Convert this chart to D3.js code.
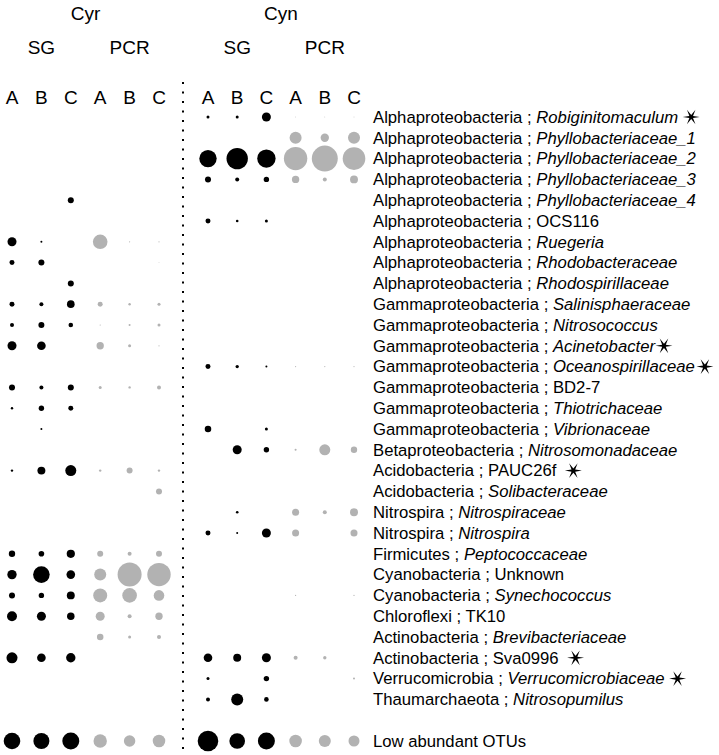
<!DOCTYPE html>
<html>
<head>
<meta charset="utf-8">
<script src="https://cdn.jsdelivr.net/npm/d3@7"></script>
<style>
  body { margin: 0; background: #fff; }
  svg { font-family: "Liberation Sans", Arial, sans-serif; }
</style>
</head>
<body>
<svg id="chart" width="719" height="755"></svg>
<script>
// taxa: phylum/class ; group (italic when a named genus/family)
var phyla = [
    "Alphaproteobacteria", "Alphaproteobacteria", "Alphaproteobacteria", "Alphaproteobacteria",
    "Alphaproteobacteria", "Alphaproteobacteria", "Alphaproteobacteria", "Alphaproteobacteria",
    "Alphaproteobacteria", "Gammaproteobacteria", "Gammaproteobacteria", "Gammaproteobacteria",
    "Gammaproteobacteria", "Gammaproteobacteria", "Gammaproteobacteria", "Gammaproteobacteria",
    "Betaproteobacteria", "Acidobacteria", "Acidobacteria", "Nitrospira", "Nitrospira",
    "Firmicutes", "Cyanobacteria", "Cyanobacteria", "Chloroflexi", "Actinobacteria",
    "Actinobacteria", "Verrucomicrobia", "Thaumarchaeota", ""
];
var groups = [
    "Robiginitomaculum", "Phyllobacteriaceae_1", "Phyllobacteriaceae_2", "Phyllobacteriaceae_3",
    "Phyllobacteriaceae_4", "OCS116", "Ruegeria", "Rhodobacteraceae", "Rhodospirillaceae",
    "Salinisphaeraceae", "Nitrosococcus", "Acinetobacter", "Oceanospirillaceae", "BD2-7",
    "Thiotrichaceae", "Vibrionaceae", "Nitrosomonadaceae", "PAUC26f", "Solibacteraceae",
    "Nitrospiraceae", "Nitrospira", "Peptococcaceae", "Unknown", "Synechococcus", "TK10",
    "Brevibacteriaceae", "Sva0996", "Verrucomicrobiaceae", "Nitrosopumilus", "Low abundant OTUs"
];
var plainGroups = ["OCS116", "BD2-7", "PAUC26f", "Unknown", "TK10", "Sva0996", "Low abundant OTUs"];
var starred = ["Robiginitomaculum", "Acinetobacter", "Oceanospirillaceae", "PAUC26f", "Sva0996", "Verrucomicrobiaceae"];

var sites = ["Cyr", "Cyn"];
var methods = ["SG", "PCR"];
var replicates = ["A", "B", "C"];

// relative abundance (%) per sample, same order as groups
var cyrSgA  = [0, 0, 0, 0, 0, 0, 3.6, 1.1, 0, 1.1, 0.71, 3.6, 0, 1.6, 0.26, 0, 0, 0.26, 0, 0, 0, 1.8, 3.9, 1.6, 4.4, 0, 5.4, 0, 0, 12.2];
var cyrSgB  = [0, 0, 0, 0, 0, 0, 0.18, 1.6, 0, 0.71, 1.6, 3.3, 0, 0.71, 1.3, 0.18, 0, 2.8, 0, 0, 0, 1.4, 12.2, 1.3, 3.6, 0, 3.3, 0, 0, 11.4];
var cyrSgC  = [0, 0, 0, 0, 1.6, 0, 0, 0, 1.6, 2.6, 0.94, 0, 0, 1.6, 1.1, 0, 0, 5.4, 0, 0, 0, 3.0, 3.3, 2.8, 2.5, 0, 3.9, 0, 0, 12.8];
var cyrPcrA = [0, 0, 0, 0, 0, 0, 9.5, 0, 0, 1.1, 0.06, 2.4, 0, 0.4, 0, 0, 0, 0.26, 0, 0, 0, 1.6, 6.4, 8.7, 3.6, 1.9, 0, 0, 0, 8.0];
var cyrPcrB = [0, 0, 0, 0, 0, 0, 0.06, 0, 0, 0.26, 0.18, 0.4, 0, 0.26, 0, 0, 0, 1.6, 0, 0, 0, 0.71, 25.6, 9.5, 0.71, 0.4, 0, 0, 0, 5.8];
var cyrPcrC = [0, 0, 0, 0, 0, 0, 0.06, 0.03, 0, 0.4, 0.4, 0.06, 0, 0.71, 0, 0, 0, 0.26, 1.6, 0, 0, 1.6, 24.3, 5.0, 2.4, 0.71, 0, 0, 0, 7.0];
var cynSgA  = [0.4, 0, 13.4, 1.6, 0, 1.1, 0, 0, 0, 0, 0, 0, 1.1, 0, 0, 1.9, 0, 0, 0, 0, 1.1, 0, 0, 0, 0, 0, 3.3, 0.4, 0.71, 18.8];
var cynSgB  = [0.4, 0, 20.3, 0.71, 0, 0.3, 0, 0, 0, 0, 0, 0, 0.5, 0, 0, 0, 3.6, 0, 0, 0.3, 0.18, 0, 0, 0, 0, 0, 2.8, 0, 6.4, 10.8];
var cynSgC  = [3.6, 0, 15.0, 1.3, 0, 0.4, 0, 0, 0, 0, 0, 0, 0.18, 0, 0, 0.4, 1.3, 0, 0, 0, 3.6, 0, 0, 0, 0, 0, 3.6, 1.3, 0.94, 12.8];
var cynPcrA = [0.03, 6.4, 24.3, 2.4, 0, 0, 0, 0, 0, 0, 0, 0, 0.06, 0, 0, 0, 0.18, 0, 0, 2.2, 2.2, 0, 0, 0.06, 0, 0, 0.71, 0, 0, 7.0];
var cynPcrB = [0.03, 3.1, 30, 0.71, 0, 0, 0, 0, 0, 0, 0, 0, 0.06, 0, 0, 0, 5.4, 0, 0, 0.71, 0, 0, 0, 0, 0, 0, 0.5, 0, 0, 6.4];
var cynPcrC = [0.03, 6.4, 22.7, 2.8, 0, 0, 0, 0, 0, 0, 0, 0, 0.06, 0, 0, 0, 1.8, 0, 0, 2.8, 2.2, 0, 0, 0.06, 0, 0, 0, 0.18, 0, 5.4];

var samples = [
    { site: "Cyr", method: "SG", rep: "A", values: cyrSgA },
    { site: "Cyr", method: "SG", rep: "B", values: cyrSgB },
    { site: "Cyr", method: "SG", rep: "C", values: cyrSgC },
    { site: "Cyr", method: "PCR", rep: "A", values: cyrPcrA },
    { site: "Cyr", method: "PCR", rep: "B", values: cyrPcrB },
    { site: "Cyr", method: "PCR", rep: "C", values: cyrPcrC },
    { site: "Cyn", method: "SG", rep: "A", values: cynSgA },
    { site: "Cyn", method: "SG", rep: "B", values: cynSgB },
    { site: "Cyn", method: "SG", rep: "C", values: cynSgC },
    { site: "Cyn", method: "PCR", rep: "A", values: cynPcrA },
    { site: "Cyn", method: "PCR", rep: "B", values: cynPcrB },
    { site: "Cyn", method: "PCR", rep: "C", values: cynPcrC }
];

var svg = d3.select("#chart");
var colKeys = function (site) {
    var keys = [];
    methods.forEach(function (m) {
        replicates.forEach(function (r) { keys.push(site + m + r); });
    });
    return keys;
};

var xScales = {
    Cyr: d3.scalePoint().domain(colKeys("Cyr")).range([12, 159]),
    Cyn: d3.scalePoint().domain(colKeys("Cyn")).range([208, 354])
};
var xOf = function (s) { return xScales[s.site](s.site + s.method + s.rep); };

// rows, with an empty slot before the last row
var rowKeys = groups.slice(0, groups.length - 1).concat(["gap"], groups.slice(groups.length - 1));
var yScale = d3.scalePoint().domain(rowKeys).range([117, 741]);

var rScale = d3.scaleSqrt().domain([0, 30]).range([0, 13]);
var color = { SG: "#000000", PCR: "#b2b2b2" };

// headers
var header = svg.append("g").attr("font-size", 19).attr("fill", "#000").attr("text-anchor", "middle");

sites.forEach(function (site) {
    var keys = colKeys(site);
    var xs = xScales[site];
    header.append("text")
        .attr("x", (xs(keys[1]) + xs(keys[4])) / 2)
        .attr("y", 13).attr("dy", "0.35em")
        .text(site);
    methods.forEach(function (m) {
        header.append("text")
            .attr("x", xs(site + m + "B"))
            .attr("y", 47).attr("dy", "0.35em")
            .text(m);
    });
});

header.selectAll("text.rep")
    .data(samples)
    .enter().append("text")
    .attr("class", "rep")
    .attr("x", xOf)
    .attr("y", 97).attr("dy", "0.35em")
    .text(function (d) { return d.rep; });

// dotted divider
svg.append("line")
    .attr("x1", 183).attr("x2", 183)
    .attr("y1", 82).attr("y2", 755)
    .attr("stroke", "#000")
    .attr("stroke-width", 2)
    .attr("stroke-dasharray", "2,7.5");

// bubbles
var cells = [];
samples.forEach(function (s) {
    s.values.forEach(function (v, i) {
        if (v > 0) cells.push({ sample: s, group: groups[i], value: v });
    });
});

svg.append("g").selectAll("circle")
    .data(cells)
    .enter().append("circle")
    .attr("cx", function (d) { return xOf(d.sample); })
    .attr("cy", function (d) { return yScale(d.group); })
    .attr("r", function (d) { return rScale(d.value); })
    .attr("fill", function (d) { return color[d.sample.method]; });

// row labels
var labels = svg.append("g").attr("font-size", 16.7).attr("fill", "#000");
var starGap = { Acinetobacter: 9, Oceanospirillaceae: 10, PAUC26f: 17, Sva0996: 17 };

groups.forEach(function (g, i) {
    var t = labels.append("text")
        .attr("x", 373)
        .attr("y", yScale(g))
        .attr("dy", "0.35em");
    if (phyla[i]) t.append("tspan").text(phyla[i] + " ; ");
    t.append("tspan")
        .attr("font-style", plainGroups.indexOf(g) >= 0 ? "normal" : "italic")
        .text(g);

    if (starred.indexOf(g) >= 0) {
        var end = 373 + t.node().getComputedTextLength();
        var gap = starGap[g] || 13;
        var pts = d3.range(12).map(function (k) {
            var a = k * Math.PI / 6;
            var r = k % 2 === 0 ? 8.5 : 2.1;
            return [Math.cos(a) * r, Math.sin(a) * r];
        });
        labels.append("path")
            .attr("transform", "translate(" + (end + gap) + "," + yScale(g) + ")")
            .attr("d", d3.line()(pts) + "Z")
            .attr("fill", "#000");
    }
});
</script>
</body>
</html>
